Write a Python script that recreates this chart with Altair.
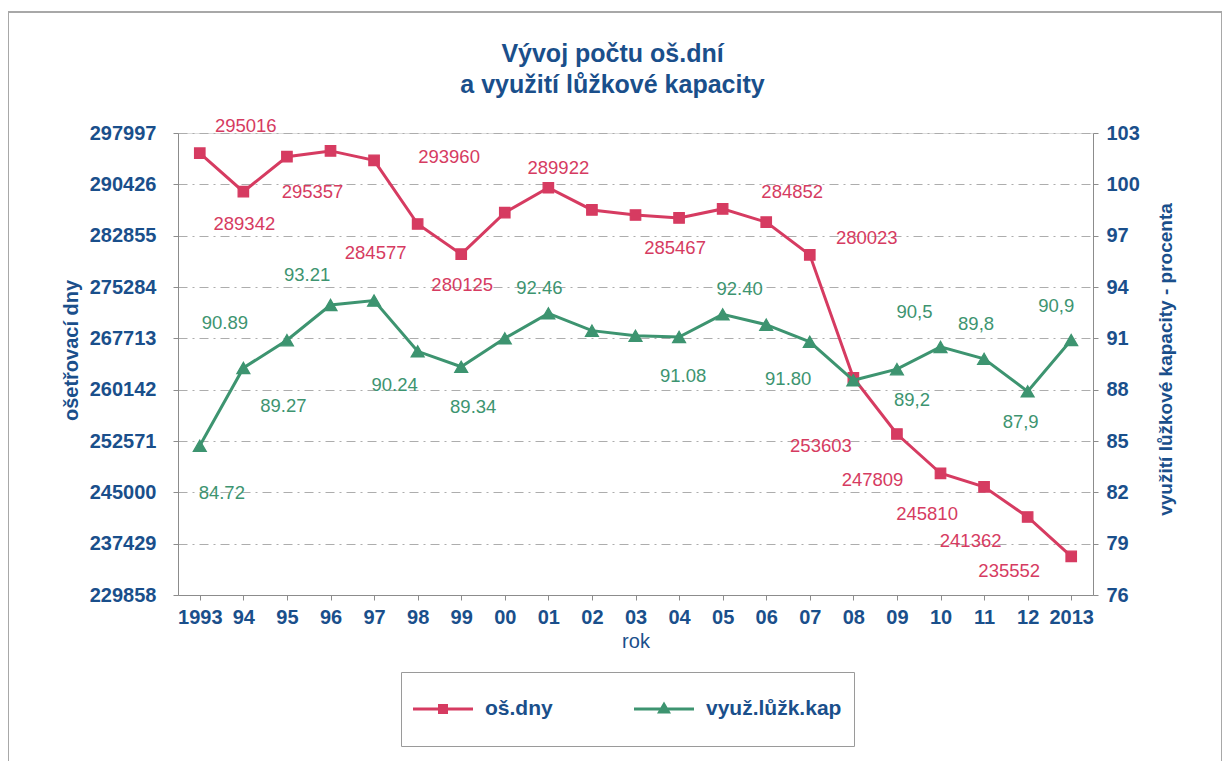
import altair as alt
import pandas as pd

# ---------------- data ----------------
years = ["1993", "94", "95", "96", "97", "98", "99", "00", "01", "02", "03",
         "04", "05", "06", "07", "08", "09", "10", "11", "12", "2013"]
os_dny = [295016, 289342, 294500, 295357, 293960, 284577, 280125, 286250, 289922, 286650, 285900,
          285467, 286800, 284852, 280023, 261900, 253603, 247809, 245810, 241362, 235552]
os_labels = ["295016", "289342", "", "295357", "293960", "284577", "280125", "", "289922", "", "",
             "285467", "", "284852", "280023", "", "253603", "247809", "245810", "241362", "235552"]
vyuz = [84.72, 89.27, 90.89, 92.95, 93.21, 90.24, 89.34, 91.0, 92.46, 91.45, 91.15,
        91.08, 92.40, 91.80, 90.8, 88.55, 89.2, 90.5, 89.8, 87.9, 90.9]
vyuz_labels = ["84.72", "89.27", "90.89", "", "93.21", "90.24", "89.34", "", "92.46", "", "",
               "91.08", "92.40", "91.80", "", "", "89,2", "90,5", "89,8", "87,9", "90,9"]
left_ticks = [229858, 237429, 245000, 252571, 260142, 267713, 275284, 282855, 290426, 297997]
right_ticks = [76, 79, 82, 85, 88, 91, 94, 97, 100, 103]
series_names = ["oš.dny", "využ.lůžk.kap"]
title_lines = ["Vývoj počtu oš.dní", "a využití lůžkové kapacity"]

# ---------------- styles ----------------
FONT = "Liberation Sans"
BLUE = "#1A4F8B"
RED = "#D63B61"
GREEN = "#3D9470"
GRID = "#ADADAD"
AXISC = "#8C8C8C"
FRAME = "#A8A8A8"

# label offsets (pixels) relative to their points
os_offsets = {"1993": (46, -27), "94": (1, 32), "96": (-18, 41), "97": (75, -3), "98": (-42, 29),
              "99": (1, 31), "01": (10, -20), "04": (-4, 30), "06": (26, -30), "07": (57, -17),
              "09": (-76, 12), "10": (-68, 7), "11": (-57, 27), "12": (-57, 24), "2013": (-62, 15)}
vyuz_offsets = {"1993": (22, 47), "94": (40, 38), "95": (-62, -17), "97": (-67, -26), "98": (-23, 34),
                "99": (12, 40), "01": (-9, -25), "04": (4, 39), "05": (17, -25), "06": (22, 54),
                "09": (15, 31), "10": (-26, -35), "11": (-8, -35), "12": (-7, 31), "2013": (-15, -34)}

RED_PATH = "M0,-1M0,1M-1,-0.06H1.4V0.06H-1Z M0,-0.2H0.4V0.2H0Z"
GREEN_PATH = "M0,-1M0,1M-1,-0.06H1.4V0.06H-1Z M0.2,-0.3L0.48,0.18H-0.08Z"

red_df = pd.DataFrame({"cat": years, "value": os_dny, "label": os_labels, "series": series_names[0]})
green_df = pd.DataFrame({"cat": years, "value": vyuz, "label": vyuz_labels, "series": series_names[1]})
frame_df = pd.DataFrame({"frame": [0]})

x_enc = alt.X("cat:N", sort=years, axis=alt.Axis(
    title="rok", labelAngle=0, labelFont=FONT, labelFontSize=20, labelFontWeight="bold",
    labelColor=BLUE, labelPadding=7, tickSize=5, tickColor=AXISC, domainColor=AXISC,
    titleFont=FONT, titleFontSize=20, titleFontWeight="normal", titleColor=BLUE, titlePadding=4,
    grid=False))

y_left = alt.Y("value:Q",
               scale=alt.Scale(domain=[left_ticks[0], left_ticks[-1]], nice=False, zero=False),
               axis=alt.Axis(orient="left", values=left_ticks, format="d", title="ošetřovací dny",
                             grid=True, gridColor=GRID, gridDash=[9, 5, 2, 5], gridWidth=1,
                             labelFont=FONT, labelFontSize=20, labelFontWeight="bold", labelColor=BLUE,
                             labelPadding=17, tickSize=5, tickColor=AXISC, domainColor=AXISC,
                             titleFont=FONT, titleFontSize=20, titleFontWeight="bold",
                             titleColor=BLUE, titlePadding=8, titleY=217))

y_right = alt.Y("value:Q",
                scale=alt.Scale(domain=[right_ticks[0], right_ticks[-1]], nice=False, zero=False),
                axis=alt.Axis(orient="right", values=right_ticks, format="d",
                              title="využití lůžkové kapacity - procenta", grid=False,
                              labelFont=FONT, labelFontSize=20, labelFontWeight="bold", labelColor=BLUE,
                              labelPadding=8, tickSize=5, tickColor=AXISC, domainColor=AXISC,
                              titleFont=FONT, titleFontSize=19, titleFontWeight="bold",
                              titleColor=BLUE, titlePadding=36, titleAngle=270, titleY=226))

is_red = "datum.value === 'oš.dny'"
legend = alt.Legend(
    title=None, orient="none", legendX=223, legendY=539, direction="horizontal",
    strokeColor="#9A9A9A", padding=12, symbolSize=2500, symbolStrokeWidth=0,
    symbolType=alt.ExprRef(f"{is_red} ? '{RED_PATH}' : '{GREEN_PATH}'"),
    symbolOpacity=1,
    labelFont=FONT, labelFontSize=21, labelFontWeight="bold", labelColor=BLUE,
    labelOffset=22, columnPadding=81,
)
color_enc = alt.Color("series:N", scale=alt.Scale(domain=series_names, range=[RED, GREEN]), legend=legend)

frame = alt.Chart(frame_df).mark_rect(fill=None, stroke=FRAME, strokeWidth=2).encode(
    x=alt.value(-170), x2=alt.value(1044), y=alt.value(-121), y2=alt.value(660))

red_line = alt.Chart(red_df).mark_line(strokeWidth=3, color=RED).encode(x=x_enc, y=y_left)
red_pts = alt.Chart(red_df).mark_point(shape="square", filled=True, size=110,
                                       stroke=RED, strokeWidth=1.2, opacity=1).encode(
    x=x_enc, y=y_left, color=color_enc)
red_texts = [
    alt.Chart(red_df).transform_filter(alt.datum.cat == c).mark_text(
        dx=dx, dy=dy, font=FONT, fontSize=18.5, color=RED, baseline="middle", align="center"
    ).encode(x=x_enc, y=y_left, text="label:N")
    for c, (dx, dy) in os_offsets.items()
]

green_line = alt.Chart(green_df).mark_line(strokeWidth=3, color=GREEN).encode(x=x_enc, y=y_right)
green_pts = alt.Chart(green_df).mark_point(shape="triangle-up", filled=True, size=170,
                                           stroke=GREEN, strokeWidth=1.2, opacity=1).encode(
    x=x_enc, y=y_right, color=color_enc)
green_texts = [
    alt.Chart(green_df).transform_filter(alt.datum.cat == c).mark_text(
        dx=dx, dy=dy, font=FONT, fontSize=18.5, color=GREEN, baseline="middle", align="center"
    ).encode(x=x_enc, y=y_right, text="label:N")
    for c, (dx, dy) in vyuz_offsets.items()
]

red = alt.layer(red_line, red_pts, *red_texts)
green = alt.layer(green_line, green_pts, *green_texts)

chart = alt.layer(frame, red, green).resolve_scale(y="independent").properties(
    width=915, height=462,
    title=alt.TitleParams(text=title_lines, font=FONT, fontSize=25, fontWeight="bold", color=BLUE,
                          anchor="middle", dx=-23, dy=119, offset=32, lineHeight=31),
    padding={"left": 170, "top": 125, "right": 129, "bottom": 166},
    autosize=alt.AutoSizeParams(type="none"),
).configure_view(stroke=None).configure(background="white")

chart.save("out.html", embed_options={"renderer": "svg", "actions": False})
